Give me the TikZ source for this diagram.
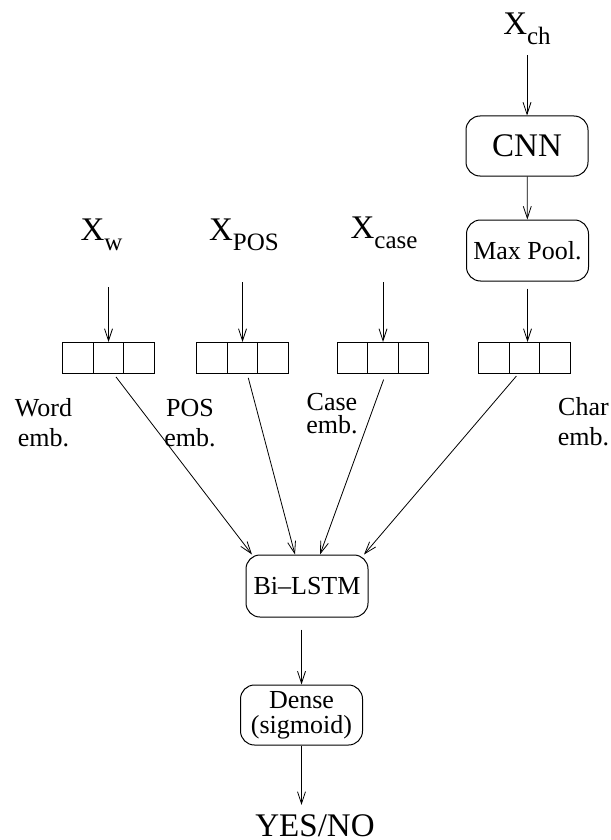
\documentclass[tikz,border=0pt]{standalone}
\usepackage{fontspec}
\setmainfont{Liberation Serif}
\usetikzlibrary{arrows.meta, positioning}

\newcommand{\bigtext}{\fontsize{33}{36}\selectfont}
\newcommand{\midtext}{\fontsize{26}{30}\selectfont}
\newcommand{\lowsub}[1]{\raisebox{-10pt}{\fontsize{25}{25}\selectfont #1}}

\tikzset{
  arr/.style={-{Straight Barb[length=12pt,width=8pt]}, line width=0.8pt},
  roundbox/.style={draw, line width=1pt, rounded corners=14pt, minimum width=122pt,
    minimum height=60pt, inner sep=0pt, font=\midtext},
  cell/.style={draw, line width=1pt, minimum width=30.5pt, minimum height=31pt,
    inner sep=0pt, outer sep=0pt},
  inlabel/.style={font=\bigtext, inner sep=0pt, anchor=base},
  emblabel/.style={font=\midtext, align=center, inner sep=0pt, anchor=base},
}

\begin{document}
\begin{tikzpicture}[x=1pt, y=-1pt]
\useasboundingbox (0,0) rectangle (610,840);

% char branch
\node[inlabel] (xch) at (527,35) {X\lowsub{ch}};
\node[roundbox, font=\bigtext] (cnn) at (527,146) {CNN};
\node[roundbox, minimum height=61pt] (mp) at (527.5,250.5) {Max Pool.};

% word, POS and case inputs
\node[inlabel] (xw) at (101.5,240) {X\lowsub{w}};
\node[inlabel] (xpos) at (244,240) {X\lowsub{POS}};
\node[inlabel] (xcase) at (384,238) {X\lowsub{case}};

% embedding vectors
\foreach \n/\x in {w/108.5, pos/242.5, case/383, ch/524.5} {
  \node[cell] (\n2) at (\x,357.5) {};
  \node[cell, left=0pt of \n2] (\n1) {};
  \node[cell, right=0pt of \n2] (\n3) {};
}
% base = last line here
\node[emblabel] (lw) at (43.5,446) {Word\\emb.};
\node[emblabel] (lpos) at (190,446) {POS\\emb.};
\node[emblabel, font=\fontsize{26}{23}\selectfont] (lcase) at (332,433) {Case\\emb.};
\node[emblabel] (lch) at (583.5,445) {Char\\emb.};

% output part
\node[roundbox, minimum height=62pt] (lstm) at (307,586) {Bi--LSTM};
\node[roundbox, align=center, font=\fontsize{26}{25}\selectfont] (dense) at (301.5,715) {Dense\\(sigmoid)};
\node[inlabel] (yes) at (315,836) {YES/NO};

\draw[arr, shorten <=10pt] (xch) -- (cnn);
\draw[arr] (cnn) -- (mp);
\draw[arr, shorten <=7pt] (mp.south) -- (mp.south |- ch2.north);
\draw[arr, shorten <=37pt] (xw.south -| w2.north) -- (w2.north);
\draw[arr, shorten <=32pt] (xpos.south -| pos2.north) -- (pos2.north);
\draw[arr, shorten <=34pt] (xcase.south -| case2.north) -- (case2.north);

\draw[arr, shorten <=5pt] ([xshift=4.5pt]w2.south) -- ([xshift=-55pt]lstm.north);
\draw[arr, shorten <=5pt] ([xshift=4.5pt]pos2.south) -- ([xshift=-12pt]lstm.north);
\draw[arr, shorten <=7pt] ([xshift=3pt]case2.south) -- ([xshift=13pt]lstm.north);
\draw[arr, shorten <=4pt] ([xshift=-5.5pt]ch2.south) -- ([xshift=57pt]lstm.north);

\draw[arr, shorten <=12pt] (lstm.south -| dense.north) -- (dense.north);
\draw[arr, shorten >=9pt] (dense.south) -- (dense.south |- yes.north);
\end{tikzpicture}
\end{document}
